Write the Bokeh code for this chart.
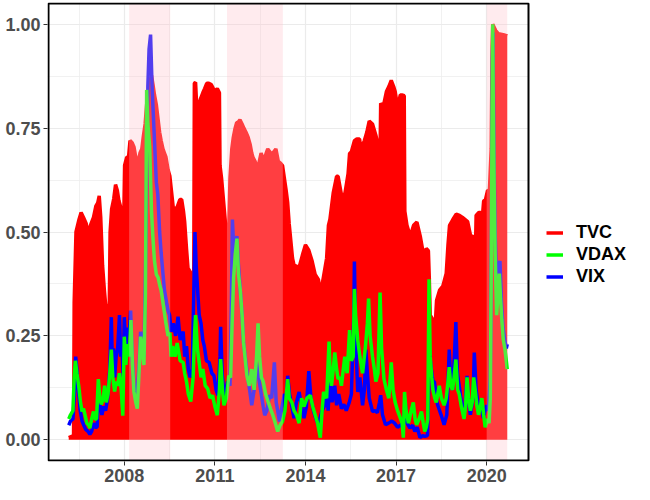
from bokeh.plotting import figure
from bokeh.models import (FixedTicker, Legend, LegendItem, BoxAnnotation, Range1d)
from bokeh.embed import file_html
from bokeh.resources import INLINE

# ---------------- data ----------------
tvc_year = [2006.16, 2006.32, 2006.34, 2006.40, 2006.50, 2006.57, 2006.65, 2006.74, 2006.79, 2006.85,
            2006.90, 2006.98, 2007.06, 2007.12, 2007.17, 2007.22, 2007.28, 2007.34, 2007.38, 2007.45,
            2007.50, 2007.53, 2007.58, 2007.65, 2007.71, 2007.77, 2007.82, 2007.88, 2007.93, 2007.98,
            2008.01, 2008.08, 2008.14, 2008.19, 2008.26, 2008.32, 2008.38, 2008.41, 2008.46, 2008.52,
            2008.58, 2008.63, 2008.69, 2008.74, 2008.82, 2008.90, 2008.95, 2009.00, 2009.06, 2009.12,
            2009.17, 2009.22, 2009.28, 2009.33, 2009.38, 2009.45, 2009.51, 2009.56, 2009.62, 2009.68,
            2009.75, 2009.84, 2009.90, 2009.96, 2010.00, 2010.06, 2010.11, 2010.22, 2010.30, 2010.32,
            2010.36, 2010.40, 2010.45, 2010.52, 2010.60, 2010.66, 2010.73, 2010.80, 2010.88, 2010.95,
            2011.02, 2011.08, 2011.15, 2011.17, 2011.22, 2011.28, 2011.34, 2011.40, 2011.45, 2011.50,
            2011.56, 2011.61, 2011.67, 2011.72, 2011.78, 2011.83, 2011.90, 2011.96, 2012.03, 2012.10,
            2012.17, 2012.22, 2012.26, 2012.33, 2012.42, 2012.47, 2012.53, 2012.58, 2012.64, 2012.70,
            2012.75, 2012.85, 2012.92, 2013.02, 2013.10, 2013.18, 2013.24, 2013.30, 2013.36, 2013.41,
            2013.46, 2013.57, 2013.62, 2013.79, 2013.90, 2014.00, 2014.11, 2014.22, 2014.32, 2014.43,
            2014.49, 2014.59, 2014.70, 2014.76, 2014.81, 2014.92, 2015.03, 2015.08, 2015.19, 2015.30,
            2015.41, 2015.46, 2015.52, 2015.62, 2015.70, 2015.79, 2015.84, 2015.95, 2016.03, 2016.11,
            2016.22, 2016.33, 2016.43, 2016.47, 2016.49, 2016.57, 2016.68, 2016.76, 2016.84, 2016.92,
            2016.97, 2017.03, 2017.08, 2017.14, 2017.19, 2017.27, 2017.29, 2017.36, 2017.47, 2017.58,
            2017.69, 2017.80, 2017.91, 2018.00, 2018.07, 2018.10, 2018.13, 2018.23, 2018.30, 2018.34,
            2018.44, 2018.55, 2018.66, 2018.72, 2018.77, 2018.88, 2018.99, 2019.10, 2019.20, 2019.37,
            2019.47, 2019.55, 2019.63, 2019.65, 2019.74, 2019.80, 2019.85, 2019.90, 2019.96, 2020.03,
            2020.09, 2020.15, 2020.18, 2020.20, 2020.30, 2020.39, 2020.55, 2020.68]
tvc_value = [0.005, 0.01, 0.33, 0.50, 0.53, 0.547, 0.535, 0.52, 0.495, 0.51,
             0.52, 0.535, 0.563, 0.57, 0.587, 0.535, 0.42, 0.36, 0.327, 0.31,
             0.31, 0.50, 0.555, 0.58, 0.614, 0.60, 0.576, 0.56, 0.545, 0.52,
             0.66, 0.68, 0.68, 0.72, 0.715, 0.705, 0.68, 0.65, 0.67, 0.69,
             0.70, 0.73, 0.76, 0.807, 0.85, 0.877, 0.855, 0.83, 0.807, 0.77,
             0.74, 0.72, 0.70, 0.69, 0.68, 0.65, 0.634, 0.60, 0.56, 0.555,
             0.56, 0.578, 0.578, 0.55, 0.524, 0.46, 0.413, 0.40, 0.39, 0.858,
             0.86, 0.80, 0.80, 0.82, 0.835, 0.845, 0.858, 0.858, 0.855, 0.845,
             0.84, 0.845, 0.835, 0.66, 0.63, 0.58, 0.53, 0.46, 0.48, 0.63,
             0.70, 0.728, 0.75, 0.763, 0.765, 0.77, 0.76, 0.75, 0.74, 0.728,
             0.71, 0.69, 0.68, 0.67, 0.65, 0.67, 0.69, 0.68, 0.675, 0.69,
             0.70, 0.69, 0.69, 0.70, 0.67, 0.665, 0.66, 0.63, 0.60, 0.571,
             0.52, 0.437, 0.42, 0.415, 0.445, 0.469, 0.456, 0.43, 0.398, 0.385,
             0.35, 0.39, 0.437, 0.516, 0.531, 0.595, 0.634, 0.634, 0.59, 0.59,
             0.64, 0.689, 0.693, 0.72, 0.724, 0.724, 0.70, 0.72, 0.74, 0.767,
             0.76, 0.733, 0.70, 0.69, 0.81, 0.80, 0.838, 0.85, 0.865, 0.85,
             0.838, 0.81, 0.81, 0.83, 0.83, 0.828, 0.55, 0.516, 0.49, 0.516,
             0.524, 0.49, 0.445, 0.46, 0.455, 0.39, 0.30, 0.288, 0.28, 0.335,
             0.36, 0.37, 0.40, 0.47, 0.516, 0.53, 0.543, 0.54, 0.535, 0.525,
             0.49, 0.49, 0.46, 0.54, 0.547, 0.547, 0.53, 0.575, 0.578, 0.60,
             0.60, 0.70, 0.95, 1.00, 0.985, 0.977, 0.975, 0.972]

vix_year = [2006.16, 2006.22, 2006.30, 2006.36, 2006.39, 2006.43, 2006.48, 2006.54, 2006.60, 2006.66,
            2006.72, 2006.80, 2006.86, 2006.92, 2006.98, 2007.04, 2007.10, 2007.15, 2007.20, 2007.26,
            2007.32, 2007.38, 2007.45, 2007.52, 2007.57, 2007.60, 2007.64, 2007.68, 2007.73, 2007.78,
            2007.84, 2007.88, 2007.92, 2007.96, 2008.00, 2008.05, 2008.11, 2008.16, 2008.21, 2008.26,
            2008.32, 2008.38, 2008.43, 2008.49, 2008.54, 2008.60, 2008.65, 2008.70, 2008.74, 2008.78,
            2008.82, 2008.87, 2008.92, 2008.95, 2009.00, 2009.06, 2009.11, 2009.17, 2009.22, 2009.28,
            2009.33, 2009.40, 2009.45, 2009.50, 2009.55, 2009.62, 2009.70, 2009.78, 2009.85, 2009.95,
            2010.00, 2010.06, 2010.12, 2010.18, 2010.25, 2010.30, 2010.34, 2010.38, 2010.43, 2010.48,
            2010.54, 2010.60, 2010.65, 2010.72, 2010.81, 2010.90, 2010.97, 2011.04, 2011.10, 2011.17,
            2011.19, 2011.24, 2011.30, 2011.36, 2011.42, 2011.50, 2011.55, 2011.58, 2011.63, 2011.68,
            2011.73, 2011.78, 2011.84, 2011.90, 2011.95, 2012.02, 2012.08, 2012.15, 2012.22, 2012.30,
            2012.38, 2012.45, 2012.54, 2012.60, 2012.65, 2012.72, 2012.81, 2012.88, 2012.97, 2013.03,
            2013.08, 2013.14, 2013.20, 2013.30, 2013.36, 2013.41, 2013.47, 2013.55, 2013.62, 2013.70,
            2013.79, 2013.87, 2013.95, 2014.03, 2014.11, 2014.18, 2014.27, 2014.35, 2014.43, 2014.54,
            2014.62, 2014.70, 2014.75, 2014.81, 2014.88, 2014.97, 2015.03, 2015.10, 2015.19, 2015.27,
            2015.35, 2015.45, 2015.52, 2015.60, 2015.62, 2015.66, 2015.73, 2015.80, 2015.89, 2015.95,
            2016.00, 2016.05, 2016.11, 2016.18, 2016.22, 2016.30, 2016.38, 2016.45, 2016.49, 2016.55,
            2016.65, 2016.75, 2016.86, 2016.95, 2017.05, 2017.15, 2017.25, 2017.30, 2017.36, 2017.46,
            2017.55, 2017.62, 2017.70, 2017.79, 2017.88, 2017.95, 2018.04, 2018.08, 2018.10, 2018.15,
            2018.22, 2018.27, 2018.33, 2018.38, 2018.49, 2018.59, 2018.68, 2018.76, 2018.81, 2018.87,
            2018.93, 2018.98, 2019.03, 2019.09, 2019.20, 2019.28, 2019.35, 2019.40, 2019.46, 2019.55,
            2019.59, 2019.65, 2019.73, 2019.80, 2019.89, 2019.95, 2020.00, 2020.06, 2020.12, 2020.16,
            2020.19, 2020.21, 2020.24, 2020.28, 2020.33, 2020.39, 2020.44, 2020.49, 2020.54, 2020.60,
            2020.65, 2020.68]
vix_value = [0.035, 0.045, 0.05, 0.12, 0.20, 0.17, 0.12, 0.07, 0.045, 0.035,
             0.025, 0.02, 0.013, 0.02, 0.04, 0.03, 0.03, 0.12, 0.08, 0.06,
             0.08, 0.07, 0.10, 0.17, 0.295, 0.20, 0.22, 0.15, 0.20, 0.22,
             0.30, 0.20, 0.24, 0.15, 0.295, 0.22, 0.27, 0.25, 0.311, 0.20,
             0.13, 0.11, 0.12, 0.18, 0.26, 0.22, 0.20, 0.40, 0.62, 0.85,
             0.94, 0.975, 0.85, 0.80, 0.72, 0.62, 0.59, 0.50, 0.45, 0.40,
             0.36, 0.33, 0.31, 0.30, 0.26, 0.28, 0.25, 0.296, 0.24, 0.26,
             0.20, 0.225, 0.17, 0.15, 0.17, 0.35, 0.50, 0.42, 0.358, 0.30,
             0.28, 0.24, 0.225, 0.19, 0.186, 0.16, 0.154, 0.12, 0.107, 0.20,
             0.272, 0.16, 0.107, 0.12, 0.14, 0.13, 0.35, 0.53, 0.45, 0.47,
             0.49, 0.42, 0.36, 0.30, 0.233, 0.19, 0.154, 0.12, 0.083, 0.12,
             0.186, 0.15, 0.107, 0.08, 0.059, 0.07, 0.107, 0.10, 0.186, 0.09,
             0.07, 0.044, 0.07, 0.11, 0.10, 0.154, 0.11, 0.08, 0.052, 0.09,
             0.115, 0.08, 0.052, 0.08, 0.165, 0.10, 0.068, 0.05, 0.036, 0.068,
             0.08, 0.115, 0.07, 0.16, 0.09, 0.13, 0.083, 0.11, 0.075, 0.085,
             0.07, 0.09, 0.11, 0.30, 0.429, 0.25, 0.115, 0.15, 0.083, 0.12,
             0.217, 0.16, 0.10, 0.08, 0.068, 0.07, 0.065, 0.09, 0.107, 0.06,
             0.036, 0.04, 0.045, 0.04, 0.03, 0.035, 0.04, 0.092, 0.04, 0.028,
             0.035, 0.02, 0.03, 0.005, 0.01, 0.008, 0.01, 0.12, 0.217, 0.18,
             0.14, 0.14, 0.10, 0.083, 0.06, 0.036, 0.06, 0.217, 0.14, 0.12,
             0.20, 0.283, 0.16, 0.13, 0.07, 0.08, 0.154, 0.09, 0.06, 0.10,
             0.21, 0.12, 0.08, 0.09, 0.052, 0.07, 0.083, 0.07, 0.15, 0.50,
             0.92, 0.98, 0.70, 0.50, 0.37, 0.42, 0.43, 0.33, 0.27, 0.24,
             0.22, 0.23]

vdax_year = [2006.16, 2006.22, 2006.30, 2006.34, 2006.38, 2006.43, 2006.49, 2006.55, 2006.60, 2006.65,
             2006.70, 2006.76, 2006.82, 2006.86, 2006.92, 2006.98, 2007.03, 2007.08, 2007.14, 2007.19,
             2007.24, 2007.30, 2007.35, 2007.40, 2007.46, 2007.52, 2007.57, 2007.62, 2007.68, 2007.73,
             2007.78, 2007.84, 2007.90, 2007.95, 2008.00, 2008.05, 2008.11, 2008.16, 2008.22, 2008.27,
             2008.32, 2008.38, 2008.43, 2008.48, 2008.54, 2008.60, 2008.65, 2008.70, 2008.74, 2008.78,
             2008.84, 2008.90, 2008.95, 2009.00, 2009.06, 2009.12, 2009.18, 2009.22, 2009.30, 2009.38,
             2009.45, 2009.51, 2009.55, 2009.60, 2009.68, 2009.75, 2009.85, 2009.95, 2010.00, 2010.06,
             2010.12, 2010.20, 2010.28, 2010.33, 2010.36, 2010.42, 2010.48, 2010.54, 2010.60, 2010.68,
             2010.76, 2010.84, 2010.92, 2011.00, 2011.08, 2011.15, 2011.19, 2011.25, 2011.30, 2011.38,
             2011.46, 2011.52, 2011.57, 2011.62, 2011.68, 2011.73, 2011.78, 2011.84, 2011.90, 2011.95,
             2012.01, 2012.06, 2012.14, 2012.22, 2012.30, 2012.38, 2012.43, 2012.48, 2012.54, 2012.60,
             2012.68, 2012.76, 2012.84, 2012.92, 2013.00, 2013.08, 2013.16, 2013.24, 2013.32, 2013.41,
             2013.46, 2013.55, 2013.62, 2013.70, 2013.79, 2013.87, 2013.95, 2014.05, 2014.16, 2014.24,
             2014.32, 2014.40, 2014.49, 2014.55, 2014.60, 2014.70, 2014.78, 2014.82, 2014.86, 2014.92,
             2014.97, 2015.03, 2015.08, 2015.14, 2015.19, 2015.30, 2015.38, 2015.46, 2015.52, 2015.58,
             2015.62, 2015.66, 2015.73, 2015.80, 2015.89, 2015.98, 2016.05, 2016.09, 2016.14, 2016.22,
             2016.28, 2016.33, 2016.40, 2016.47, 2016.52, 2016.60, 2016.68, 2016.76, 2016.84, 2016.90,
             2016.97, 2017.05, 2017.14, 2017.20, 2017.24, 2017.28, 2017.33, 2017.41, 2017.50, 2017.57,
             2017.63, 2017.68, 2017.76, 2017.84, 2017.90, 2017.95, 2018.00, 2018.05, 2018.09, 2018.13,
             2018.18, 2018.22, 2018.28, 2018.33, 2018.38, 2018.43, 2018.50, 2018.59, 2018.66, 2018.72,
             2018.76, 2018.81, 2018.87, 2018.92, 2018.98, 2019.04, 2019.09, 2019.16, 2019.25, 2019.30,
             2019.35, 2019.40, 2019.46, 2019.52, 2019.57, 2019.62, 2019.68, 2019.73, 2019.79, 2019.84,
             2019.90, 2019.95, 2020.02, 2020.08, 2020.12, 2020.15, 2020.18, 2020.20, 2020.22, 2020.25,
             2020.28, 2020.33, 2020.38, 2020.42, 2020.46, 2020.50, 2020.55, 2020.60, 2020.65, 2020.68]
vdax_value = [0.05, 0.06, 0.07, 0.15, 0.19, 0.16, 0.13, 0.09, 0.068, 0.075,
              0.06, 0.04, 0.035, 0.028, 0.05, 0.068, 0.05, 0.05, 0.146, 0.10,
              0.085, 0.10, 0.13, 0.09, 0.11, 0.16, 0.217, 0.15, 0.116, 0.14,
              0.13, 0.16, 0.12, 0.058, 0.248, 0.18, 0.23, 0.20, 0.288, 0.18,
              0.115, 0.09, 0.075, 0.15, 0.248, 0.21, 0.18, 0.35, 0.842, 0.76,
              0.705, 0.55, 0.484, 0.43, 0.398, 0.39, 0.37, 0.36, 0.32, 0.28,
              0.25, 0.257, 0.20, 0.225, 0.20, 0.233, 0.19, 0.186, 0.16, 0.14,
              0.11, 0.092, 0.15, 0.26, 0.30, 0.22, 0.186, 0.15, 0.17, 0.13,
              0.123, 0.10, 0.107, 0.08, 0.059, 0.12, 0.194, 0.12, 0.083, 0.10,
              0.154, 0.15, 0.28, 0.39, 0.45, 0.484, 0.40, 0.36, 0.30, 0.233,
              0.19, 0.154, 0.13, 0.17, 0.12, 0.20, 0.28, 0.20, 0.15, 0.14,
              0.11, 0.092, 0.075, 0.059, 0.04, 0.02, 0.035, 0.044, 0.07, 0.146,
              0.10, 0.09, 0.07, 0.06, 0.04, 0.10, 0.08, 0.10, 0.107, 0.08,
              0.06, 0.04, 0.005, 0.07, 0.115, 0.10, 0.236, 0.15, 0.13, 0.17,
              0.21, 0.17, 0.146, 0.15, 0.13, 0.20, 0.16, 0.264, 0.19, 0.20,
              0.363, 0.30, 0.24, 0.20, 0.16, 0.22, 0.28, 0.34, 0.25, 0.20,
              0.17, 0.14, 0.16, 0.354, 0.22, 0.146, 0.12, 0.10, 0.186, 0.12,
              0.09, 0.07, 0.052, 0.04, 0.005, 0.115, 0.07, 0.04, 0.07, 0.09,
              0.05, 0.036, 0.05, 0.068, 0.04, 0.02, 0.03, 0.05, 0.386, 0.20,
              0.15, 0.12, 0.10, 0.09, 0.11, 0.13, 0.10, 0.083, 0.10, 0.14,
              0.175, 0.13, 0.12, 0.15, 0.193, 0.12, 0.11, 0.08, 0.05, 0.08,
              0.15, 0.10, 0.07, 0.09, 0.15, 0.12, 0.08, 0.06, 0.08, 0.10,
              0.06, 0.03, 0.05, 0.04, 0.10, 0.40, 0.80, 1.00, 0.80, 0.60,
              0.45, 0.30, 0.36, 0.40, 0.34, 0.29, 0.24, 0.22, 0.19, 0.17]

band_start = [2008.16, 2011.40, 2020.00]
band_end = [2009.52, 2013.25, 2020.68]

x_ticks = [2008, 2011, 2014, 2017, 2020]
x_tick_labels = ["2008", "2011", "2014", "2017", "2020"]
x_minor = [2006.5, 2009.5, 2012.5, 2015.5, 2018.5]
y_ticks = [0.0, 0.25, 0.5, 0.75, 1.0]
y_tick_labels = ["0.00", "0.25", "0.50", "0.75", "1.00"]
y_minor = [0.125, 0.375, 0.625, 0.875]

series_names = ["TVC", "VDAX", "VIX"]
series_colors = ["#FF0000", "#00FF00", "#0000FF"]

FONT = "Liberation Sans"

# ---------------- layout ----------------
W, H = 634, 484
BL, BT, BB = 47, 2, 22           # borders (left, top, bottom); legend lives inside the frame area
PANEL_W = 481                     # drawn panel width in px
X_LO, X_HI = 2005.49, 2021.385    # panel limits (data)
Y_LO, Y_HI = -0.05, 1.05
frame_w = W - BL
frame_h = H - BT - BB
px_per_x = (PANEL_W - 1) / (X_HI - X_LO)
px_per_y = (frame_h - 2) / (Y_HI - Y_LO)
x_start = X_LO - 1 / px_per_x
x_end = x_start + frame_w / px_per_x
y_start = Y_LO - 1 / px_per_y
y_end = Y_HI + 1 / px_per_y

p = figure(width=W, height=H, output_backend="svg", toolbar_location=None,
           x_range=Range1d(x_start, x_end), y_range=Range1d(y_start, y_end),
           min_border_left=BL, min_border_right=0, min_border_top=BT, min_border_bottom=BB)

p.background_fill_color = "white"
p.border_fill_color = "white"
p.outline_line_color = None

# TVC area
p.varea(x=tvc_year, y1=0, y2=tvc_value, fill_color=series_colors[0], fill_alpha=1.0)
r_tvc = p.line(tvc_year, tvc_value, line_color=series_colors[0], line_width=3.5)
r_vix = p.line(vix_year, vix_value, line_color=series_colors[2], line_width=3.5)
r_vdax = p.line(vdax_year, vdax_value, line_color=series_colors[1], line_width=3.5)

# white area right of the panel (legend zone)
p.add_layout(BoxAnnotation(left=X_HI, fill_color="white", fill_alpha=1.0, line_color=None))

for s, e in zip(band_start, band_end):
    p.add_layout(BoxAnnotation(left=s, right=e, bottom=Y_LO, top=Y_HI, fill_color="pink",
                               fill_alpha=0.32, line_color=None))

# panel border
p.add_layout(BoxAnnotation(left=X_LO, right=X_HI, bottom=Y_LO, top=Y_HI, fill_color=None,
                           fill_alpha=0, line_color="black", line_alpha=1.0, line_width=2))

# axes
p.xaxis.ticker = FixedTicker(ticks=x_ticks, minor_ticks=x_minor)
p.yaxis.ticker = FixedTicker(ticks=y_ticks, minor_ticks=y_minor)
p.xaxis.major_label_overrides = {t: l for t, l in zip(x_ticks, x_tick_labels)}
p.yaxis.major_label_overrides = {t: l for t, l in zip(y_ticks, y_tick_labels)}
for ax in (p.xaxis, p.yaxis):
    ax.axis_line_color = None
    ax.major_tick_line_color = "#333333"
    ax.major_tick_line_width = 1
    ax.major_tick_out = 4
    ax.major_tick_in = 0
    ax.minor_tick_line_color = None
    ax.major_label_text_font = FONT
    ax.major_label_text_font_style = "bold"
    ax.major_label_text_font_size = "18px"
    ax.major_label_text_color = "#4D4D4D"
    ax.major_label_standoff = 3

p.xgrid.grid_line_color = "#EBEBEB"
p.ygrid.grid_line_color = "#EBEBEB"
p.xgrid.grid_line_width = 1.2
p.ygrid.grid_line_width = 1.2
p.xgrid.minor_grid_line_color = "#EEEEEE"
p.ygrid.minor_grid_line_color = "#EEEEEE"
p.xgrid.minor_grid_line_width = 0.8
p.ygrid.minor_grid_line_width = 0.8

legend = Legend(items=[LegendItem(label=series_names[0], renderers=[r_tvc]),
                       LegendItem(label=series_names[1], renderers=[r_vdax]),
                       LegendItem(label=series_names[2], renderers=[r_vix])],
                location=(PANEL_W + 18, 174))
legend.label_text_font = FONT
legend.label_text_font_style = "bold"
legend.label_text_font_size = "18px"
legend.label_text_color = "black"
legend.glyph_width = 17
legend.glyph_height = 21
legend.label_height = 21
legend.label_standoff = 13
legend.spacing = 1
legend.padding = 0
legend.margin = 0
legend.border_line_color = None
legend.background_fill_alpha = 0
p.add_layout(legend, "center")

open("out.html", "w").write(file_html(p, INLINE))
